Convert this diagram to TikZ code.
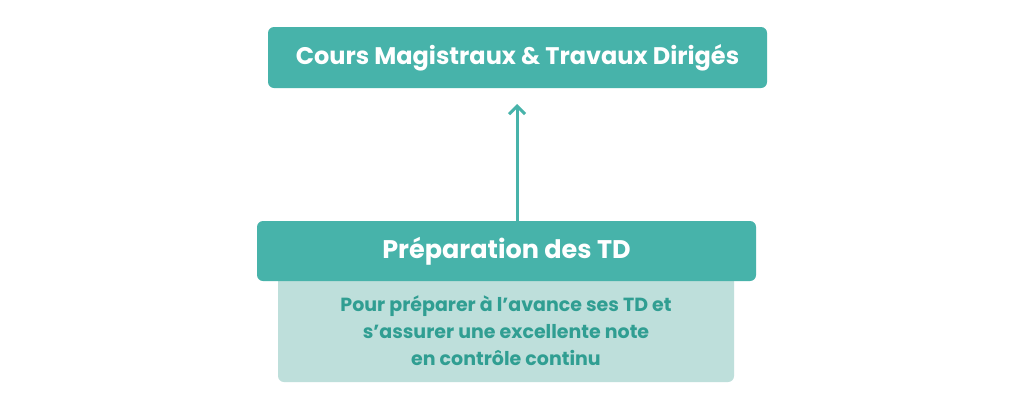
\documentclass[tikz,border=0pt]{standalone}
\usepackage{fontspec}
\setmainfont{Poppins}
\usepackage{xcolor}
\usepackage{tikz}
\usetikzlibrary{arrows.meta, positioning, calc}
\definecolor{tealcolor}{RGB}{71,179,170}
\definecolor{lightcolor}{RGB}{190,223,219}
\definecolor{textcolor}{RGB}{48,158,146}

\begin{document}
\begin{tikzpicture}[
    x=1pt, y=-1pt,
    headbox/.style={fill=tealcolor, minimum width=499pt, minimum height=61pt, rounded corners=6pt, text=white, font=\bfseries, align=center, inner sep=0pt},
    descbox/.style={fill=lightcolor, minimum width=456pt, rounded corners=6pt, text=textcolor, font=\bfseries, align=center, inner sep=0pt}
]
    \useasboundingbox[fill=white] (0,0) rectangle (1024,410);
    % Top course box
    \node[headbox, font=\bfseries\fontsize{24}{28}\selectfont] (cours) at (517.5,57.5) {Cours Magistraux \& Travaux Dirigés};
    % Preparation box with its description below
    \node[descbox, minimum height=120pt] (desc) at (506,322) {};
    \node[headbox, minimum height=60pt, font=\bfseries\fontsize{25.5}{30}\selectfont] (prep) at (506.5,251) {Préparation des TD};
    \node[text=textcolor, align=center, font=\bfseries\fontsize{19}{27}\selectfont] (desctext) at (506,331) {Pour préparer à l’avance ses TD et\\s’assurer une excellente note\\en contrôle continu};
    % Link
    \draw[tealcolor, line width=3pt, -{Straight Barb[length=8pt, width=16pt, line width=3pt]}] (517,221) -- (517,104) coordinate (tip);
\end{tikzpicture}
\end{document}
